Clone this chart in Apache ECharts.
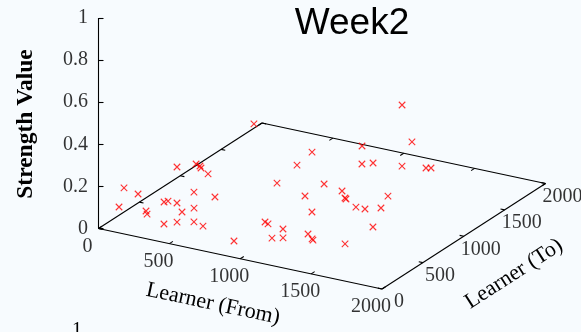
<!DOCTYPE html>
<html>
<head>
<meta charset="utf-8">
<title>Week2</title>
<script src="https://cdn.jsdelivr.net/npm/echarts@6/dist/echarts.min.js"></script>
<style>
  html, body { margin: 0; padding: 0; background: #f7fbfe; }
  #chart { width: 581px; height: 332px; }
</style>
</head>
<body>
<div id="chart"></div>
<script>
// ---- data -------------------------------------------------------------
const chartTitle = 'Week2';
const learnerFrom = [536, 274, 437, 232, 617, 427, 946, 1282, 1615, 1487, 1411, 1178, 1419, 1459, 1706, 1404,
  79, 151, 105, 229, 225, 320, 212, 466, 411, 535, 494, 739, 362, 467, 487, 672,
  1178, 1107, 1312, 1221, 1037, 948, 1155, 1119, 1108, 1398, 1374, 1249, 890,
  1519, 1402, 1502, 1579, 1586, 1460, 1848, 1702, 1538];
const learnerTo = [972, 485, 436, 839, 184, 600, 788, 389, 913, 1256, 777, 1180, 898, 1183, 1048, 1633,
  175, 222, 69, 184, 204, 247, 483, 152, 309, 240, 312, 143, 173, 151, 323, 113,
  141, 840, 251, 494, 239, 430, 254, 182, 336, 139, 230, 458, 114,
  345, 584, 423, 803, 399, 728, 251, 406, 349];
const strength = [0.33, 0.21, 0.26, 0.12, 0.33, 0.17, 0.24, 0.45, 0.59, 0.31, 0.40, 0.18, 0.29, 0.21, 0.27, 0.08,
  0.16, 0.13, 0.10, 0.07, 0.05, 0.11, 0.04, 0.15, 0.06, 0.19, 0.09, 0.22, 0.03, 0.06, 0.02, 0.08,
  0.35, 0.16, 0.28, 0.13, 0.12, 0.05, 0.10, 0.07, 0.03, 0.14, 0.09, 0.01, 0.04,
  0.31, 0.20, 0.25, 0.18, 0.23, 0.12, 0.30, 0.15, 0.06];
const fromTicks = [0, 500, 1000, 1500, 2000];
const toTicks = [0, 500, 1000, 1500, 2000];
const strengthTicks = [0, 0.2, 0.4, 0.6, 0.8, 1];
const strengthTickLabels = ['0', '0.2', '0.4', '0.6', '0.8', '1'];
const fromTitle = 'Learner (From)';
const toTitle = 'Learner (To)';
const strengthTitle = 'Strength Value';

// ---- oblique 3D view onto the page ------------------------------------
const view = {
  origin: [98.5, 228.5],     // (from 0, to 0, strength 0)
  fromSpan: [283.5, 60.5],   // page offset of the full From range
  toSpan: [163.5, -105.5],   // page offset of the full To range
  zSpan: [0, -210.5],        // page offset of the full Strength range
  fromMax: 2000, toMax: 2000, zMax: 1
};
function project(f, t, z) {
  const a = f / view.fromMax, b = t / view.toMax, c = z / view.zMax;
  return [
    view.origin[0] + a * view.fromSpan[0] + b * view.toSpan[0] + c * view.zSpan[0],
    view.origin[1] + a * view.fromSpan[1] + b * view.toSpan[1] + c * view.zSpan[1]
  ];
}
function unit(v) { const l = Math.hypot(v[0], v[1]); return [v[0] / l, v[1] / l]; }
function shift(p, dir, len) { return [p[0] + dir[0] * len, p[1] + dir[1] * len]; }

const fMax = view.fromMax, tMax = view.toMax, zMax = view.zMax;
const fromDir = unit(view.fromSpan), toDir = unit(view.toSpan);
const tickLen = 4.2, zTickLen = 5;

// box edges on the floor and the vertical strength axis
const edges = [
  [project(0, 0, 0), project(fMax, 0, 0)],
  [project(0, 0, 0), project(0, tMax, 0)],
  [project(0, tMax, 0), project(fMax, tMax, 0)],
  [project(fMax, 0, 0), project(fMax, tMax, 0)],
  [project(0, 0, 0), project(0, 0, zMax)]
];
const ticks = [];
fromTicks.forEach(f => {
  const a = project(f, 0, 0), b = project(f, tMax, 0);
  ticks.push([a, shift(a, toDir, tickLen)]);
  ticks.push([b, shift(b, toDir, -tickLen)]);
});
toTicks.forEach(t => {
  const a = project(0, t, 0), b = project(fMax, t, 0);
  ticks.push([a, shift(a, fromDir, tickLen)]);
  ticks.push([b, shift(b, fromDir, -tickLen)]);
});
strengthTicks.forEach(z => {
  const a = project(0, 0, z);
  ticks.push([a, [a[0] + zTickLen, a[1]]]);
});

const points = learnerFrom.map((f, i) => project(f, learnerTo[i], strength[i]));

const tickFont = { fontFamily: 'Liberation Serif', fontSize: 20, color: '#000' };
function labelSeries(items, label) {
  return {
    type: 'scatter', silent: true, symbolSize: 1, z: 5,
    itemStyle: { color: 'rgba(0,0,0,0)' },
    data: items,
    label: Object.assign({ show: true, formatter: '{b}' }, tickFont, label)
  };
}

const chart = echarts.init(document.getElementById('chart'), null, { renderer: 'canvas' });
chart.setOption({
  backgroundColor: '#f7fbfe',
  animation: false,
  grid: { left: 0, top: 0, right: 0, bottom: 0 },
  xAxis: { type: 'value', min: 0, max: 581, show: false },
  yAxis: { type: 'value', min: 0, max: 332, inverse: true, show: false },
  series: [
    {
      type: 'lines', coordinateSystem: 'cartesian2d', silent: true, z: 2,
      lineStyle: { color: '#000', width: 1.1, opacity: 1, curveness: 0 },
      data: edges.concat(ticks).map(c => ({ coords: c }))
    },
    {
      type: 'scatter', name: chartTitle, silent: true, z: 3,
      symbol: 'path://M0,0L10,10M10,0L0,10',
      symbolSize: 6.5,
      itemStyle: { color: 'rgba(0,0,0,0)', borderColor: '#ff0000', borderWidth: 1.1 },
      data: points
    },
    labelSeries(fromTicks.map(f => ({ value: project(f, 0, 0), name: String(f) })),
      { position: 'inside', offset: [-11, 18] }),
    labelSeries(toTicks.map(t => ({ value: project(fMax, t, 0), name: String(t) })),
      { position: 'inside', offset: [17, 13] }),
    labelSeries(strengthTicks.map((z, i) => ({ value: project(0, 0, z), name: strengthTickLabels[i] })),
      { position: 'left', distance: 10 })
  ],
  graphic: [
    {
      type: 'text', x: 352, y: 24,
      style: { text: chartTitle, fontFamily: 'Liberation Sans', fontSize: 37, fill: '#000',
               textAlign: 'center', textVerticalAlign: 'middle' }
    },
    {
      type: 'text', x: 26, y: 124, rotation: Math.PI / 2,
      style: { text: strengthTitle, fontFamily: 'Liberation Serif', fontWeight: 'bold', fontSize: 23.5,
               fill: '#000', textAlign: 'center', textVerticalAlign: 'middle' }
    },
    {
      type: 'text', x: 213, y: 304, rotation: -Math.atan2(view.fromSpan[1], view.fromSpan[0]),
      style: { text: fromTitle, fontFamily: 'Liberation Serif', fontSize: 22, fill: '#000',
               textAlign: 'center', textVerticalAlign: 'middle' }
    },
    {
      type: 'text', x: 514, y: 274, rotation: -Math.atan2(view.toSpan[1], view.toSpan[0]),
      style: { text: toTitle, fontFamily: 'Liberation Serif', fontSize: 22, fill: '#000',
               textAlign: 'center', textVerticalAlign: 'middle' }
    },
    {
      // top strength label of the next panel, cut off by the page edge
      type: 'text', x: 77, y: 331,
      style: { text: '1', fontFamily: 'Liberation Serif', fontSize: 20, fill: '#000',
               textAlign: 'center', textVerticalAlign: 'middle' }
    }
  ]
});
</script>
</body>
</html>
